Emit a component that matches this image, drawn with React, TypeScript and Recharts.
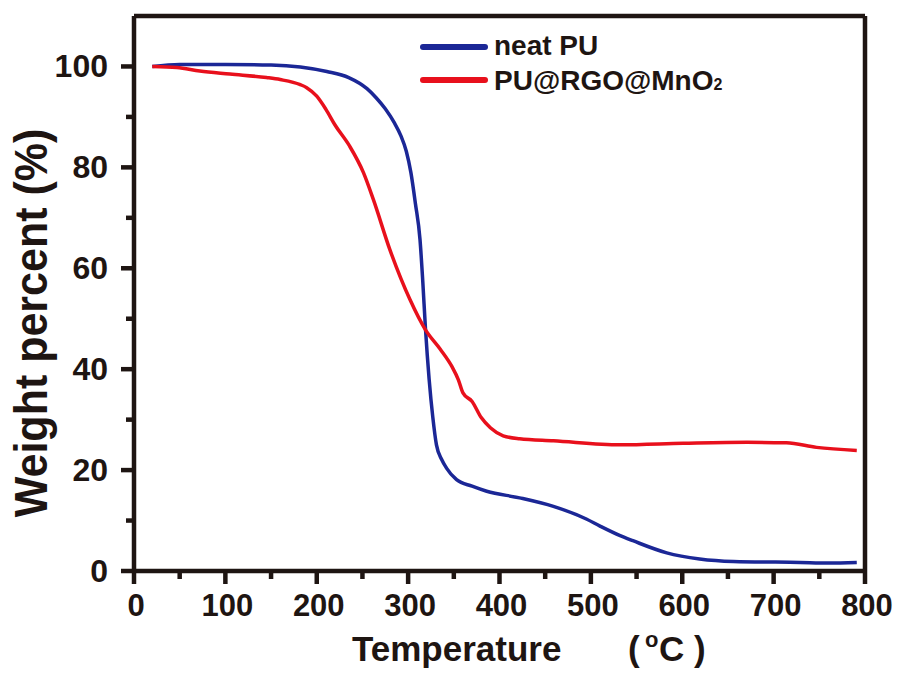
import React from "react";
import { LineChart, Line, XAxis, YAxis, ReferenceLine, Legend } from "recharts";

// neat PU (blue)
const neatTemp = [20, 50, 100, 150, 182, 211, 235, 255, 265, 275, 285, 292, 298, 303, 308, 313, 316, 319, 323, 327, 331, 337, 342, 353, 370, 386, 422, 459, 495, 510, 532, 546, 583, 619, 656, 729, 760, 791];
const neatWeight = [100.0, 100.4, 100.4, 100.3, 99.9, 99.0, 97.8, 95.6, 93.8, 91.6, 88.8, 86.3, 83.2, 79.0, 72.8, 65.7, 57.5, 48.0, 38.0, 30.5, 25.0, 22.0, 20.4, 18.1, 16.8, 15.8, 14.5, 12.8, 10.3, 8.9, 7.0, 6.0, 3.6, 2.4, 1.9, 1.7, 1.6, 1.7];

// PU@RGO@MnO2 (red)
const compTemp = [20, 47, 72, 105, 145, 160, 182, 189, 200, 210, 220, 236, 251, 262, 280, 302, 319, 335, 348, 355, 360, 370, 380, 390, 404, 422, 459, 532, 601, 671, 714, 747, 791];
const compWeight = [100.0, 99.8, 99.1, 98.5, 97.8, 97.4, 96.4, 95.8, 94.1, 91.5, 88.4, 84.2, 79.0, 73.6, 63.7, 53.8, 47.8, 44.0, 40.5, 37.9, 35.3, 33.6, 30.4, 28.4, 26.8, 26.2, 25.8, 25.0, 25.3, 25.5, 25.4, 24.5, 23.9];

const xTicks = [0, 50, 100, 150, 200, 250, 300, 350, 400, 450, 500, 550, 600, 650, 700, 750, 800];
const yTicks = [0, 10, 20, 30, 40, 50, 60, 70, 80, 90, 100];

const neatData = neatTemp.map((t, i) => ({ t, w: neatWeight[i] }));
const compData = compTemp.map((t, i) => ({ t, w: compWeight[i] }));

const INK = "#1e1512";
const BLUE = "#1b2796";
const RED = "#e8101c";
const FONT = "'Liberation Sans', Arial, sans-serif";
const FRAME_W = 4.5;
const SERIES_ORDER = ["neat PU", "PU@RGO@MnO2"];

const XTick = (props: any) => {
  const { x, y, payload } = props;
  const major = payload.value % 100 === 0;
  return (
    <g>
      <line x1={x} x2={x} y1={y} y2={y + (major ? 13 : 8)} style={{ stroke: INK, strokeWidth: FRAME_W }} />
      {major && (
        <text x={x + 2} y={y + 45} textAnchor="middle" fontFamily={FONT} fontWeight="bold" fontSize={31} fill={INK}>
          {payload.value}
        </text>
      )}
    </g>
  );
};

const YTick = (props: any) => {
  const { x, y, payload } = props;
  const major = payload.value % 20 === 0;
  return (
    <g>
      <line x1={x} x2={x - (major ? 13 : 8)} y1={y} y2={y} style={{ stroke: INK, strokeWidth: FRAME_W }} />
      {major && (
        <text x={x - 26} y={y + 11} textAnchor="end" fontFamily={FONT} fontWeight="bold" fontSize={32} fill={INK}>
          {payload.value}
        </text>
      )}
    </g>
  );
};

const renderLegend = (props: any) => {
  const items = [...(props.payload || [])].sort(
    (a: any, b: any) => SERIES_ORDER.indexOf(a.value) - SERIES_ORDER.indexOf(b.value)
  );
  return (
    <svg width={340} height={75} style={{ display: "block" }}>
      {items.map((item: any, i: number) => {
        const ly = i === 0 ? 19 : 52;
        const ty = i === 0 ? 27 : 62;
        const name: string = item.value;
        const sub = name.endsWith("2");
        return (
          <g key={name}>
            <line x1={8} x2={70} y1={ly} y2={ly} stroke={item.color} strokeWidth={6} strokeLinecap="round" />
            <text x={79} y={ty} fontFamily={FONT} fontWeight="bold" fontSize={28} fill={INK}>
              {sub ? name.slice(0, -1) : name}
              {sub && <tspan fontSize={16}>2</tspan>}
            </text>
          </g>
        );
      })}
    </svg>
  );
};

export default function App() {
  return (
    <div style={{ position: "absolute", left: 0, top: 0, background: "#fff" }}>
      <LineChart width={902} height={674} margin={{ top: 16, right: 37, bottom: 0, left: 0 }}>
        <XAxis
          dataKey="t"
          type="number"
          domain={[0, 800]}
          ticks={xTicks}
          interval={0}
          tickSize={0}
          tickMargin={0}
          tickLine={false}
          tick={<XTick />}
          height={103}
          axisLine={{ stroke: INK, strokeWidth: FRAME_W, style: { strokeWidth: FRAME_W } }}
          allowDuplicatedCategory={false}
          label={{
            content: () => (
              <text y={661} fontFamily={FONT} fontWeight="bold" fontSize={35} fill={INK}>
                <tspan x={352}>Temperature</tspan>
                <tspan x={628}>(</tspan>
                <tspan x={645} dy={-14} fontSize={22}>o</tspan>
                <tspan x={659} dy={14}>C )</tspan>
              </text>
            ),
          }}
        />
        <YAxis
          type="number"
          domain={[0, 110]}
          ticks={yTicks}
          interval={0}
          tickSize={0}
          tickMargin={0}
          tickLine={false}
          tick={<YTick />}
          width={134}
          axisLine={{ stroke: INK, strokeWidth: FRAME_W, style: { strokeWidth: FRAME_W } }}
          label={{
            content: () => (
              <text
                transform="translate(47,323) scale(1.08,1) rotate(-90)"
                textAnchor="middle"
                fontFamily={FONT}
                fontWeight="bold"
                fontSize={43}
                fill={INK}
              >
                Weight percent (%)
              </text>
            ),
          }}
        />
        <ReferenceLine y={110} stroke={INK} strokeWidth={FRAME_W} ifOverflow="visible" style={{ strokeWidth: FRAME_W }} />
        <ReferenceLine x={800} stroke={INK} strokeWidth={FRAME_W} ifOverflow="visible" style={{ strokeWidth: FRAME_W }} />
        <Legend
          layout="horizontal"
          verticalAlign="middle"
          align="center"
          content={renderLegend}
          wrapperStyle={{ position: "absolute", left: 415, top: 28, width: 340, height: 75 }}
        />
        <Line
          data={neatData}
          dataKey="w"
          name="neat PU"
          type="monotone"
          stroke={BLUE}
          strokeWidth={3.5}
          dot={false}
          isAnimationActive={false}
        />
        <Line
          data={compData}
          dataKey="w"
          name="PU@RGO@MnO2"
          type="monotone"
          stroke={RED}
          strokeWidth={3.5}
          dot={false}
          isAnimationActive={false}
        />
      </LineChart>
    </div>
  );
}
